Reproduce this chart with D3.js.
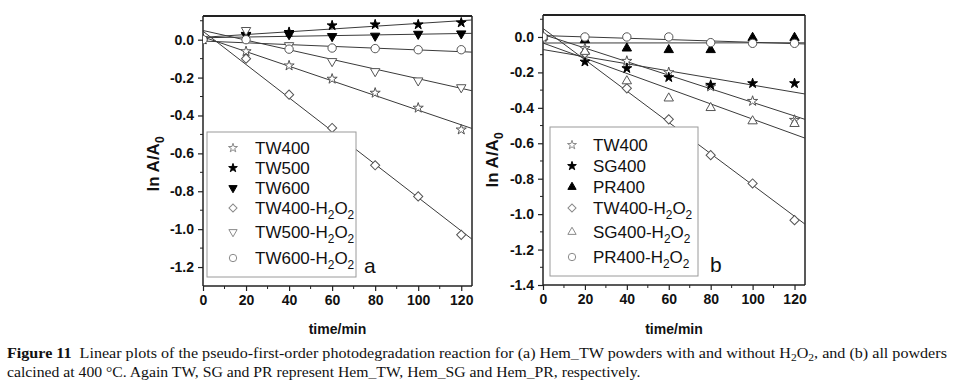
<!DOCTYPE html>
<html><head><meta charset="utf-8">
<script src="https://cdn.jsdelivr.net/npm/d3@7"></script>
<style>
html,body{margin:0;padding:0;background:#fff;}
svg{display:block;}
</style></head>
<body>
<svg id="c" width="953" height="389"></svg>
<script>
// ---------- DATA ----------
const times = [0, 20, 40, 60, 80, 100, 120];
// panel (a)
const a_TW400      = [0, -0.062, -0.137, -0.207, -0.281, -0.360, -0.475];
const a_TW500      = [0, 0.030, 0.040, 0.075, 0.080, 0.080, 0.090];
const a_TW600      = [0, 0.022, 0.028, 0.018, 0.020, 0.030, 0.032];
const a_TW400H2O2  = [0, -0.100, -0.290, -0.466, -0.663, -0.827, -1.030];
const a_TW500H2O2  = [0, 0.050, -0.030, -0.114, -0.167, -0.216, -0.252];
const a_TW600H2O2  = [0, 0.000, -0.050, -0.044, -0.047, -0.053, -0.053];
// panel (b)
const b_TW400      = [0, -0.064, -0.136, -0.200, -0.280, -0.362, -0.469];
const b_SG400      = [0, -0.140, -0.177, -0.228, -0.271, -0.262, -0.262];
const b_PR400      = [0, -0.017, -0.064, -0.073, -0.073, -0.004, -0.004];
const b_TW400H2O2  = [0, -0.092, -0.290, -0.465, -0.667, -0.827, -1.034];
const b_SG400H2O2  = [0, -0.083, -0.249, -0.346, -0.400, -0.475, -0.490];
const b_PR400H2O2  = [0, 0.000, 0.000, 0.000, -0.032, -0.036, -0.036];

const namesA = ["TW400", "TW500", "TW600", "TW400-H2O2", "TW500-H2O2", "TW600-H2O2"];
const namesB = ["TW400", "SG400", "PR400", "TW400-H2O2", "SG400-H2O2", "PR400-H2O2"];
const markers = ["starOpen", "starFilled", "triDownFilled", "diamondOpen", "triDownOpen", "circleOpen"];
const markersB = ["starOpen", "starFilled", "triUpFilled", "diamondOpen", "triUpOpen", "circleOpen"];

const xTicks = [0, 20, 40, 60, 80, 100, 120];
const xMinor = [10, 30, 50, 70, 90, 110];
const yTicksA = [0.0, -0.2, -0.4, -0.6, -0.8, -1.0, -1.2];
const yMinorA = [0.1, -0.1, -0.3, -0.5, -0.7, -0.9, -1.1];
const yTicksB = [0.0, -0.2, -0.4, -0.6, -0.8, -1.0, -1.2, -1.4];
const yMinorB = [0.1, -0.1, -0.3, -0.5, -0.7, -0.9, -1.1, -1.3];

// ---------- DRAW ----------
const svg = d3.select("#c");
const FONT = "Liberation Sans, Arial, sans-serif";

function fit(xs, ys) {
  const n = xs.length, mx = d3.mean(xs), my = d3.mean(ys);
  let sxy = 0, sxx = 0;
  for (let i = 0; i < n; i++) { sxy += (xs[i]-mx)*(ys[i]-my); sxx += (xs[i]-mx)**2; }
  const m = sxy / sxx; return { m, b: my - m*mx };
}

function marker(g, type, x, y, legend) {
  const open = type.endsWith("Open");
  const stroke = open ? (legend ? "#8a8a8a" : "#555") : "#000";
  const fill = open ? "#fff" : "#000";
  const k = legend ? 0.78 : 1;
  let path, rot = 0;
  if (type.startsWith("star")) path = d3.symbol(d3.symbolStar, (open ? 32 : 30) * k)();
  else if (type.startsWith("triDown")) { path = d3.symbol(d3.symbolTriangle, 38 * k)(); rot = 180; }
  else if (type.startsWith("triUp")) path = d3.symbol(d3.symbolTriangle, 38 * k)();
  else if (type.startsWith("diamond")) { path = d3.symbol(d3.symbolSquare, 42 * k)(); rot = 45; }
  else path = d3.symbol(d3.symbolCircle, 55 * k)();
  g.append("path").attr("d", path)
    .attr("transform", `translate(${x},${y}) rotate(${rot})`)
    .attr("fill", fill).attr("stroke", stroke).attr("stroke-width", 1);
}

function addSubText(sel, label, size) {
  const parts = label.split("H2O2");
  sel.append("tspan").text(parts[0]);
  if (parts.length > 1) {
    sel.append("tspan").text("H");
    sel.append("tspan").attr("dy", 5).attr("font-size", size*0.7).text("2");
    sel.append("tspan").attr("dy", -5).text("O");
    sel.append("tspan").attr("dy", 5).attr("font-size", size*0.7).text("2");
  }
}

function panel(cfg) {
  const g = svg.append("g");
  const x = d3.scaleLinear().domain([0, 125]).range([cfg.x0, cfg.x1]);
  const y = d3.scaleLinear().domain(cfg.ydom).range([cfg.y1, cfg.y0]);

  // frame
  g.append("line").attr("x1", cfg.x0).attr("x2", cfg.x1).attr("y1", cfg.y0).attr("y2", cfg.y0)
    .attr("stroke", "#222").attr("stroke-width", 2);
  g.append("line").attr("x1", cfg.x1).attr("x2", cfg.x1).attr("y1", cfg.y0).attr("y2", cfg.y1)
    .attr("stroke", "#222").attr("stroke-width", 1.5);

  // axes
  const ax = g.append("g").attr("transform", `translate(0,${cfg.y1})`)
    .call(d3.axisBottom(x).tickValues(xTicks).tickSize(5).tickSizeOuter(0).tickPadding(4).tickFormat(d3.format("d")));
  ax.append("g").selectAll("line").data(xMinor).join("line")
    .attr("x1", d => x(d)).attr("x2", d => x(d)).attr("y1", 0).attr("y2", 3).attr("stroke", "#222");
  const ay = g.append("g").attr("transform", `translate(${cfg.x0},0)`)
    .call(d3.axisLeft(y).tickValues(cfg.yTicks).tickSize(5).tickSizeOuter(0).tickPadding(4).tickFormat(d => d.toFixed(1)));
  ay.append("g").selectAll("line").data(cfg.yMinor).join("line")
    .attr("y1", d => y(d)).attr("y2", d => y(d)).attr("x1", 0).attr("x2", -3).attr("stroke", "#222");
  [ax, ay].forEach(a => {
    a.select(".domain").attr("stroke", "#222").attr("stroke-width", 1.5);
    a.selectAll(".tick line").attr("stroke", "#222").attr("stroke-width", 1.2);
    a.selectAll("text").attr("font-family", FONT).attr("font-weight", "bold").attr("font-size", 14).attr("fill", "#111");
  });
  ax.select(".domain").attr("d", `M${cfg.x0},0H${cfg.x1}`);
  ay.select(".domain").attr("d", `M0,${cfg.y1}V${cfg.y0}`);

  // fit lines
  const clip = "clip" + cfg.id;
  svg.append("clipPath").attr("id", clip).append("rect")
    .attr("x", cfg.x0).attr("y", cfg.y0).attr("width", cfg.x1 - cfg.x0).attr("height", cfg.y1 - cfg.y0);
  const lg = g.append("g").attr("clip-path", `url(#${clip})`);
  cfg.series.forEach(s => {
    const f = fit(times, s);
    lg.append("line").attr("x1", x(0)).attr("x2", x(125))
      .attr("y1", y(f.b)).attr("y2", y(f.b + f.m*125))
      .attr("stroke", "#3a3a3a").attr("stroke-width", 1);
  });

  // legend box
  const L = cfg.legend;
  g.append("rect").attr("x", L.x).attr("y", L.y).attr("width", L.w).attr("height", L.h)
    .attr("fill", "#fff").attr("stroke", "#9a9a9a").attr("stroke-width", 1);

  // markers
  cfg.series.forEach((s, i) => {
    s.forEach((v, j) => marker(lg, cfg.markers[i], x(times[j]), y(v), false));
  });

  // legend entries
  cfg.names.forEach((n, i) => {
    const cy = L.y + L.rows[i];
    marker(g, cfg.markers[i], L.sx, cy, true);
    const t = g.append("text").attr("x", L.tx).attr("y", cy + 6)
      .attr("font-family", FONT).attr("font-size", 17).attr("fill", "#111");
    addSubText(t, n, 17);
  });

  // panel label
  g.append("text").attr("x", cfg.lab[0]).attr("y", cfg.lab[1]).text(cfg.id)
    .attr("font-family", FONT).attr("font-size", 21).attr("fill", "#111");

  // axis titles
  const yt = g.append("text").attr("transform", `translate(${cfg.ytx},${cfg.yty}) rotate(-90)`)
    .attr("text-anchor", "middle").attr("font-family", FONT).attr("font-weight", "bold")
    .attr("font-size", 17).attr("fill", "#111");
  yt.append("tspan").text("ln A/A");
  yt.append("tspan").attr("dy", 5).attr("font-size", 12).text("0");
  g.append("text").attr("x", (cfg.x0 + cfg.x1) / 2).attr("y", 334).attr("text-anchor", "middle")
    .attr("font-family", FONT).attr("font-weight", "bold").attr("font-size", 14).attr("fill", "#111")
    .text("time/min");
}

panel({
  id: "a", x0: 203, x1: 472, y0: 16, y1: 286, ydom: [-1.3, 0.125],
  yTicks: yTicksA, yMinor: yMinorA,
  series: [a_TW400, a_TW500, a_TW600, a_TW400H2O2, a_TW500H2O2, a_TW600H2O2],
  names: namesA, markers: markers,
  legend: { x: 207, y: 132, w: 149, h: 145, sx: 233, tx: 255, rows: [16, 36, 56, 76, 100, 126] },
  lab: [364, 273], ytx: 159, yty: 164
});
panel({
  id: "b", x0: 543, x1: 805, y0: 15, y1: 285, ydom: [-1.4, 0.124],
  yTicks: yTicksB, yMinor: yMinorB,
  series: [b_TW400, b_SG400, b_PR400, b_TW400H2O2, b_SG400H2O2, b_PR400H2O2],
  names: namesB, markers: markersB,
  legend: { x: 550, y: 127, w: 148, h: 149, sx: 572, tx: 593, rows: [18, 39, 60, 81, 105, 130] },
  lab: [710, 272], ytx: 498, yty: 160
});

// caption
const SERIF = "Liberation Serif, Times New Roman, serif";
function capLine(y, target, build) {
  const t = svg.append("text").attr("x", 0).attr("y", 0)
    .attr("font-family", SERIF).attr("font-size", 14).attr("fill", "#111");
  build(t);
  const w = t.node().getComputedTextLength();
  t.attr("transform", `translate(7,${y}) scale(${target / w},1)`);
}
capLine(358, 941, t => {
  t.append("tspan").attr("font-weight", "bold").text("Figure 11");
  t.append("tspan").text("\u00a0 Linear plots of the pseudo-first-order photodegradation reaction for (a) Hem_TW powders with and without H");
  t.append("tspan").attr("dy", 3).attr("font-size", 10).text("2");
  t.append("tspan").attr("dy", -3).text("O");
  t.append("tspan").attr("dy", 3).attr("font-size", 10).text("2");
  t.append("tspan").attr("dy", -3).text(", and (b) all powders");
});
capLine(377, 634, t => {
  t.append("tspan").text("calcined at 400 \u00b0C. Again TW, SG and PR represent Hem_TW, Hem_SG and Hem_PR, respectively.");
});
</script>
</body></html>
